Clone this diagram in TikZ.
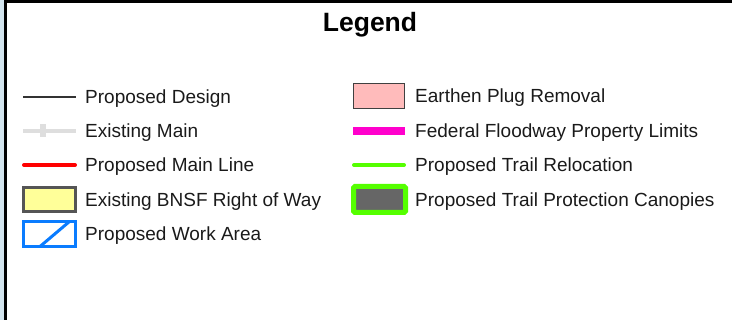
\documentclass[tikz,border=0pt]{standalone}
\usepackage{fontspec}
\setmainfont{Liberation Sans}
\usepackage{tikz}
\definecolor{txtgray}{HTML}{1A1A1A}
\definecolor{mapblue}{HTML}{D2E4EE}
\definecolor{maingray}{HTML}{DEDEDE}
\definecolor{bnsfyellow}{HTML}{FFFF99}
\definecolor{bnsfedge}{HTML}{555555}
\definecolor{workblue}{HTML}{0A7CFF}
\definecolor{plugpink}{HTML}{FFBBBB}
\definecolor{floodmag}{HTML}{FF00CC}
\definecolor{trailgreen}{HTML}{55FF00}
\definecolor{canopygray}{HTML}{666666}

\begin{document}
\begin{tikzpicture}[x=1pt,y=-1pt,
    lbl/.style={anchor=base west,inner sep=0pt,text=txtgray,font=\fontsize{19}{22}\selectfont},
    swatch/.style={minimum width=52pt,minimum height=24pt,inner sep=0pt,outer sep=0pt}]
        \useasboundingbox (0,0) rectangle (732,320);
        % frame
        \fill[mapblue] (0,0) rectangle (4,320);
        \draw[line width=3pt] (5.5,320)--(5.5,1.5)--(732,1.5);
        \node[anchor=base,inner sep=0pt,font=\fontsize{26.5}{30}\selectfont\bfseries] (title) at (370,32) {Legend};
        % left column
        \draw[line width=1.3pt,color=black!80] (23,97)--(76,97);
        \node[lbl] (design) at (85,104) {Proposed Design};
        \draw[line width=4pt,color=maingray] (23,131)--(76,131);
        \fill[maingray] (40,124) rectangle (46,137);
        \node[lbl] (main) at (85,138) {Existing Main};
        \draw[line width=4pt,color=red,line cap=round] (24,165)--(75,165);
        \node[lbl] (mainline) at (85,172) {Proposed Main Line};
        \node[swatch,draw=bnsfedge,fill=bnsfyellow,line width=3pt] (bnsf) at (49.5,199.5) {};
        \node[lbl] (bnsflbl) at (85,207) {Existing BNSF Right of Way};
        \node[swatch,draw=workblue,line width=3pt,minimum height=25pt] (work) at (49.5,234) {};
        \draw[workblue,line width=3pt] ([xshift=-9.5pt]work.south)--([xshift=20pt]work.north);
        \node[lbl] (worklbl) at (85,241) {Proposed Work Area};
        % right column
        \node[swatch,draw=black!75,fill=plugpink,line width=1pt,minimum width=51pt,minimum height=25pt] (plug) at (379,96) {};
        \node[lbl] (pluglbl) at (415,103) {Earthen Plug Removal};
        \draw[line width=8pt,color=floodmag] (353,131)--(405,131);
        \node[lbl] (flood) at (415,138) {Federal Floodway Property Limits};
        \draw[line width=4pt,color=trailgreen,line cap=round] (354,165)--(404,165);
        \node[lbl] (trail) at (415,172) {Proposed Trail Relocation};
        \node[swatch,draw=trailgreen,fill=canopygray,line width=5pt,rounded corners=1.5pt,minimum height=26pt] (canopy) at (379.5,199.5) {};
        \node[lbl] (canopylbl) at (415,207) {Proposed Trail Protection Canopies};
      \end{tikzpicture}
\end{document}
